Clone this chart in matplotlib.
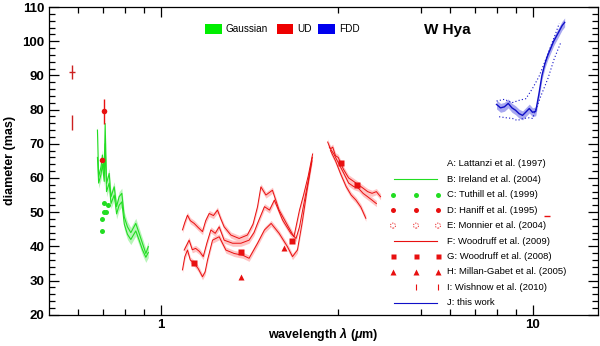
import numpy as np
import matplotlib
matplotlib.use("Agg")
import matplotlib.pyplot as plt
from matplotlib.patches import Rectangle
from matplotlib.ticker import FixedLocator, NullFormatter, FixedFormatter

plt.rcParams['font.family'] = ['Liberation Sans', 'DejaVu Sans']
plt.rcParams['mathtext.fontset'] = 'custom'
plt.rcParams['mathtext.it'] = 'Liberation Sans:italic:bold'
plt.rcParams['mathtext.rm'] = 'Liberation Sans:bold'

# ---------------- data ----------------
# A: Lattanzi et al. (1997) (error bars only)
lattanzi_wl = [0.577, 0.577]
lattanzi_d = [91.0, 76.2]
lattanzi_err = [2.0, 2.2]

# B: Ireland et al. (2004) - Gaussian (two curves)
gauss_wl = [0.675, 0.680, 0.690, 0.696, 0.704, 0.708, 0.714, 0.726, 0.734, 0.749,
            0.760, 0.772, 0.785, 0.797, 0.813, 0.830, 0.856, 0.874, 0.892, 0.911, 0.925]
gauss_d1 = [74.0, 60.3, 63.2, 66.7, 61.3, 75.9, 58.4, 61.3, 54.5, 57.4,
            51.6, 54.5, 55.5, 48.6, 45.7, 44.0, 46.7, 43.8, 40.9, 37.9, 39.9]
gauss_d2 = [66.0, 58.5, 61.0, 64.0, 59.0, 70.0, 56.0, 58.5, 52.5, 55.0,
            49.5, 52.0, 53.0, 46.5, 43.5, 42.0, 44.5, 41.8, 39.0, 36.8, 38.2]

# C: Tuthill et al. (1999)
tuthill_wl = [0.696, 0.696, 0.705, 0.712, 0.705, 0.722]
tuthill_d = [44.4, 48.0, 50.0, 50.0, 52.8, 52.2]

# D: Haniff et al. (1995)
haniff_wl = [0.705, 0.696]
haniff_d = [79.5, 65.2]
haniff_err = [3.6, 0.0]

# F: Woodruff et al. (2009) - UD, three curves, two segments
ud1_wl = [1.143, 1.160, 1.179, 1.200, 1.229, 1.260, 1.294, 1.320, 1.349, 1.385, 1.420, 1.450,
          1.480, 1.543, 1.624, 1.709, 1.770, 1.820, 1.858, 1.917, 1.996, 2.080, 2.190,
          2.280, 2.360, 2.420, 2.490, 2.560]
ud1_d = [44.8, 47.0, 49.1, 47.5, 46.7, 45.5, 44.3, 47.5, 49.6, 49.0, 50.6, 48.0,
         45.7, 43.3, 42.3, 43.3, 46.5, 51.6, 57.4, 55.0, 56.4, 50.6, 46.2,
         42.8, 50.6, 55.0, 60.5, 67.0]
ud2_wl = [1.155, 1.175, 1.191, 1.215, 1.240, 1.270, 1.300, 1.330, 1.363, 1.400, 1.435, 1.480,
          1.559, 1.642, 1.727, 1.780, 1.820, 1.900, 1.960, 2.020, 2.125, 2.237, 2.310,
          2.360, 2.420, 2.490, 2.555]
ud2_d = [38.9, 40.5, 41.8, 39.0, 39.4, 38.5, 37.0, 41.0, 44.8, 43.8, 45.7, 41.8,
         40.9, 40.9, 41.8, 44.0, 46.7, 51.6, 50.6, 53.5, 47.7, 43.8, 42.3,
         45.7, 52.0, 59.0, 66.0]
ud3_wl = [1.143, 1.160, 1.179, 1.200, 1.229, 1.260, 1.294, 1.315, 1.335, 1.377, 1.435, 1.496,
          1.575, 1.660, 1.727, 1.820, 1.900, 1.980, 2.080, 2.190, 2.260, 2.330, 2.400,
          2.470, 2.550]
ud3_d = [33.1, 37.0, 38.9, 36.0, 35.0, 33.5, 31.1, 32.5, 36.0, 41.8, 42.8, 38.9,
         37.9, 37.4, 36.5, 40.9, 44.8, 46.7, 43.8, 39.9, 37.0, 38.9, 47.0,
         56.0, 65.0]
ud4_wl = [2.81, 2.86, 2.90, 2.95, 3.00, 3.10, 3.20, 3.30, 3.40, 3.50, 3.60, 3.70, 3.80, 3.90]
ud4_d = [70.5, 68.5, 69.0, 66.5, 66.0, 62.5, 60.0, 59.0, 58.0, 57.0, 56.0, 55.5, 56.0, 54.5]
ud5_wl = [2.84, 2.92, 3.00, 3.10, 3.20, 3.30, 3.40, 3.50, 3.60, 3.70, 3.80]
ud5_d = [69.0, 67.0, 64.5, 61.5, 58.5, 57.5, 57.0, 55.5, 54.5, 53.5, 52.5]
ud6_wl = [2.86, 2.95, 3.05, 3.15, 3.25, 3.35, 3.45, 3.56]
ud6_d = [68.0, 65.0, 61.0, 57.5, 55.0, 53.5, 51.5, 48.2]

# G: Woodruff et al. (2008)
wood08_wl = [1.229, 1.642, 2.260, 3.05, 3.38]
wood08_d = [35.2, 38.4, 41.5, 64.5, 57.9]

# H: Millan-Gabet et al. (2005)
millan_wl = [1.642, 2.147]
millan_d = [30.9, 39.4]

# I: Wishnow et al. (2010)
wishnow_wl = [10.95]
wishnow_d = [48.8]

# J: this work - FDD
fdd_wl = [8.0, 8.2, 8.4, 8.6, 8.8, 9.0, 9.2, 9.4, 9.6, 9.8, 10.0, 10.2,
          10.4, 10.6, 10.8, 11.0, 11.2, 11.4, 11.6, 11.8, 12.0, 12.2]
fdd_d = [81.5, 80.5, 80.8, 81.8, 80.5, 79.8, 78.8, 78.3, 79.3, 80.3, 79.2, 79.5,
         84.5, 90.0, 93.5, 96.0, 98.0, 100.0, 101.5, 103.0, 104.5, 105.5]
fdd_up_wl = [8.0, 8.4, 8.8, 9.2, 9.6, 10.0, 10.4, 10.75, 11.1, 11.44, 11.8]
fdd_up_d = [82.5, 83.0, 82.0, 82.7, 83.2, 86.2, 89.6, 93.5, 97.5, 101.2, 105.2]
fdd_lo_wl = [8.13, 8.5, 8.83, 9.1, 9.43, 9.8, 10.0, 10.55, 11.0, 11.44, 11.93]
fdd_lo_d = [77.9, 77.6, 77.4, 76.8, 77.4, 77.6, 77.4, 84.2, 89.1, 94.9, 99.8]

legend_labels = ["A: Lattanzi et al. (1997)", "B: Ireland et al. (2004)",
                 "C: Tuthill et al. (1999)", "D: Haniff et al. (1995)",
                 "E: Monnier et al. (2004)", "F: Woodruff et al. (2009)",
                 "G: Woodruff et al. (2008)", "H: Millan-Gabet et al. (2005)",
                 "I: Wishnow et al. (2010)", "J: this work"]

# ---------------- figure ----------------
fig = plt.figure(figsize=(6.0, 3.46), dpi=100)
ax = fig.add_axes([49/600, (346-314.7)/346, (598-49)/600, (314.7-7)/346])
ax.set_xscale('log')
ax.set_xlim(0.5, 15)
ax.set_ylim(20, 110)

GREEN = '#22dd22'
GREEN_F = '#b8f5b8'
RED = '#e81010'
RED_F = '#ffc4c4'
BLUE = '#1010c8'
BLUE_F = '#a8a8f0'

# Gaussian band
for d in (gauss_d1, gauss_d2):
    d = np.array(d)
    ax.fill_between(gauss_wl, d - 1.5, d + 1.5, color=GREEN_F, lw=0, zorder=1)
for d in (gauss_d1, gauss_d2):
    ax.plot(gauss_wl, d, color=GREEN, lw=0.8, zorder=2)

# UD curves
ud_sets = ((ud1_wl, ud1_d), (ud2_wl, ud2_d), (ud3_wl, ud3_d),
           (ud4_wl, ud4_d), (ud5_wl, ud5_d), (ud6_wl, ud6_d))
for wl, d in ud_sets:
    d = np.array(d)
    ax.fill_between(wl, d - 0.9, d + 0.9, color=RED_F, lw=0, zorder=1)
for wl, d in ud_sets:
    ax.plot(wl, d, color=RED, lw=0.7, zorder=2)

# FDD
fd = np.array(fdd_d)
ax.fill_between(fdd_wl, fd - 1.3, fd + 1.3, color=BLUE_F, lw=0, zorder=1)
ax.plot(fdd_wl, fdd_d, color=BLUE, lw=1.0, zorder=2)
ax.plot(fdd_up_wl, fdd_up_d, color=BLUE, lw=0.8, ls=(0, (1, 2)), zorder=2)
ax.plot(fdd_lo_wl, fdd_lo_d, color=BLUE, lw=0.8, ls=(0, (1, 2)), zorder=2)

# Points
ax.errorbar(lattanzi_wl, lattanzi_d, yerr=lattanzi_err, fmt='none', ecolor='#cc2020', elinewidth=1.0, zorder=3)
ax.plot(lattanzi_wl[:1], lattanzi_d[:1], marker='_', ms=4, color='#cc2020', ls='none', zorder=3)
ax.plot(tuthill_wl, tuthill_d, 'o', color=GREEN, ms=3.6, mec='none', zorder=3)
ax.errorbar(haniff_wl, haniff_d, yerr=haniff_err, fmt='o', color=RED, ms=4, mec='none', elinewidth=1.0, zorder=4)
ax.plot(wood08_wl, wood08_d, 's', color=RED, ms=4.2, mec='none', zorder=4)
ax.plot(millan_wl, millan_d, '^', color=RED, ms=5, mec='none', zorder=4)
ax.plot(wishnow_wl, wishnow_d, marker='_', color=RED, ms=4, ls='none', mew=1.0, zorder=4)

# ticks
ax.xaxis.set_major_locator(FixedLocator([1, 10]))
ax.xaxis.set_major_formatter(FixedFormatter(['1', '10']))
ax.xaxis.set_minor_locator(FixedLocator([0.6, 0.7, 0.8, 0.9, 3, 5, 6, 7, 8, 9]))
ax.xaxis.set_minor_formatter(NullFormatter())
ax.yaxis.set_major_locator(FixedLocator(list(range(20, 111, 10))))
ax.yaxis.set_minor_locator(FixedLocator(list(range(20, 111, 2))))
ax.tick_params(which='both', direction='in', top=True, right=True, width=0.9)
ax.tick_params(which='major', length=7, labelsize=9.5)
ax.tick_params(axis='x', which='major', pad=3)
ax.tick_params(which='minor', length=4)
for lab in ax.get_xticklabels() + ax.get_yticklabels():
    lab.set_fontweight('bold')
for sp in ax.spines.values():
    sp.set_linewidth(0.9)

ax.set_ylabel('diameter (mas)', fontsize=9, fontweight='bold', labelpad=4)
fig.text(323/600, (346-334)/346, r'wavelength $\lambda$ ($\mu$m)', fontsize=9,
         fontweight='bold', ha='center', va='center')

# top legend
def fx(px):
    return (px - 49) / 549.0
def fy(py):
    return 1 - (py - 7) / 307.7

for x0, x1, col, lab in ((205, 221.7, '#00ee00', 'Gaussian'), (276.7, 293.3, '#ee0000', 'UD'),
                         (317.7, 335, '#0000ee', 'FDD')):
    ax.add_patch(Rectangle((fx(x0), fy(34.3)), fx(x1) - fx(x0), fy(24.3) - fy(34.3),
                           transform=ax.transAxes, color=col, lw=0, clip_on=False))
    ax.text(fx(x1 + 4), fy(29.5), lab, transform=ax.transAxes, fontsize=7.2, va='center', ha='left')

ax.text(fx(447), fy(30), 'W Hya', transform=ax.transAxes, fontsize=11, fontweight='bold',
        ha='center', va='center')

# right legend
cols = [fx(393), fx(416), fx(438)]
rows = [fy(164 + 15.4 * i) for i in range(10)]
for i, lab in enumerate(legend_labels):
    ax.text(fx(447), rows[i], lab, transform=ax.transAxes, fontsize=6.8, va='center', ha='left')
ax.plot([fx(394), fx(437)], [rows[1]] * 2, color=GREEN, lw=0.8, transform=ax.transAxes)
ax.plot(cols, [rows[2]] * 3, 'o', color=GREEN, ms=3.6, mec='none', transform=ax.transAxes)
ax.plot(cols, [rows[3]] * 3, 'o', color=RED, ms=3.6, mec='none', transform=ax.transAxes)
ax.scatter(cols, [rows[4]] * 3, s=13, facecolors='none', edgecolors=RED, linewidths=0.6,
           linestyles=(0, (1.5, 1.5)), transform=ax.transAxes)
ax.plot([fx(394), fx(437)], [rows[5]] * 2, color=RED, lw=0.8, transform=ax.transAxes)
ax.plot(cols, [rows[6]] * 3, 's', color=RED, ms=3.6, mec='none', transform=ax.transAxes)
ax.plot(cols, [rows[7]] * 3, '^', color=RED, ms=4.5, mec='none', transform=ax.transAxes)
ax.plot(cols[1:], [rows[8]] * 2, '|', color=RED, ms=4, mew=0.8, transform=ax.transAxes)
ax.plot([fx(394), fx(437)], [rows[9]] * 2, color=BLUE, lw=0.8, transform=ax.transAxes)

fig.savefig('out.png', dpi=100)
